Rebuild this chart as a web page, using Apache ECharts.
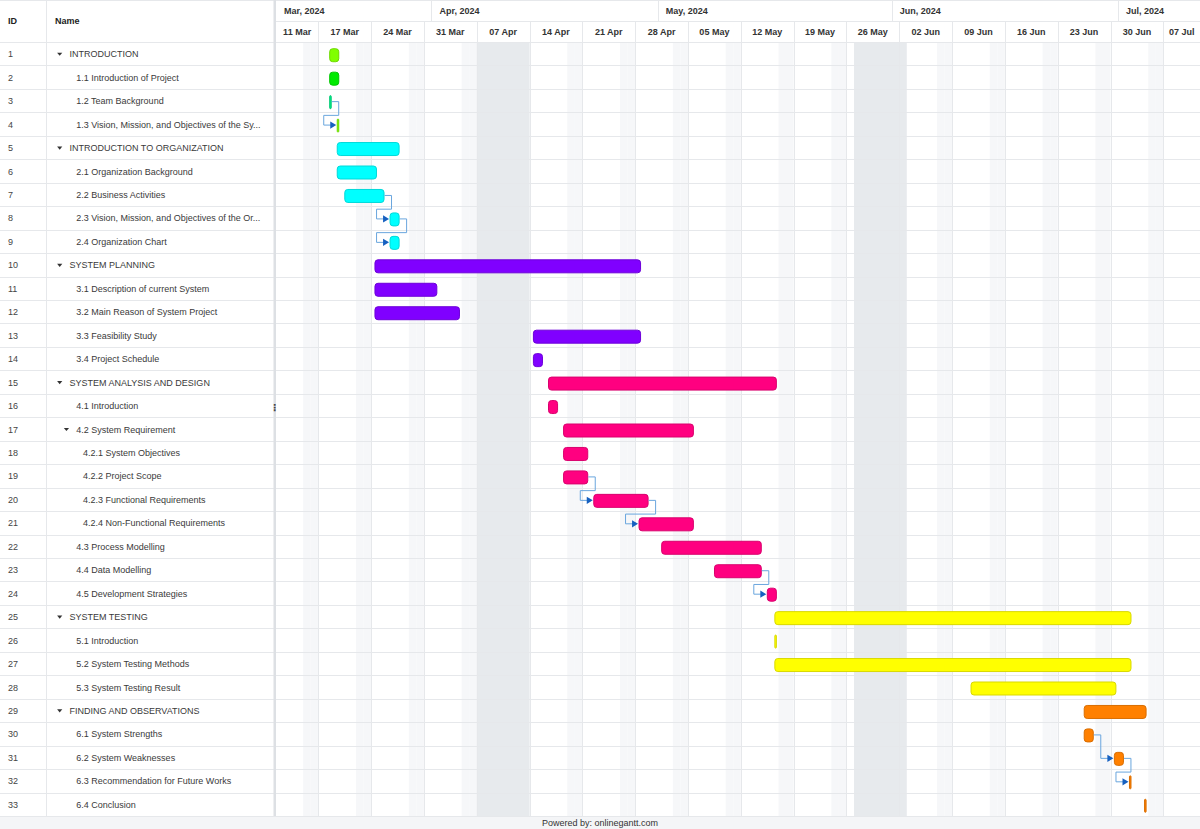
<!DOCTYPE html>
<html>
<head>
<meta charset="utf-8">
<script src="https://cdn.jsdelivr.net/npm/echarts@6/dist/echarts.min.js"></script>
<style>
html,body{margin:0;padding:0;background:#fff;}
#chart{width:1200px;height:829px;}
</style>
</head>
<body>
<div id="chart"></div>
<script>
// ---------------- DATA ----------------
const taskIds = [1,2,3,4,5,6,7,8,9,10,11,12,13,14,15,16,17,18,19,20,21,22,23,24,25,26,27,28,29,30,31,32,33];
const taskNames = [
  'INTRODUCTION',
  '1.1 Introduction of Project',
  '1.2 Team Background',
  '1.3 Vision, Mission, and Objectives of the System',
  'INTRODUCTION TO ORGANIZATION',
  '2.1 Organization Background',
  '2.2 Business Activities',
  '2.3 Vision, Mission, and Objectives of the Organization',
  '2.4 Organization Chart',
  'SYSTEM PLANNING',
  '3.1 Description of current System',
  '3.2 Main Reason of System Project',
  '3.3 Feasibility Study',
  '3.4 Project Schedule',
  'SYSTEM ANALYSIS AND DESIGN',
  '4.1 Introduction',
  '4.2 System Requirement',
  '4.2.1 System Objectives',
  '4.2.2 Project Scope',
  '4.2.3 Functional Requirements',
  '4.2.4 Non-Functional Requirements',
  '4.3 Process Modelling',
  '4.4 Data Modelling',
  '4.5 Development Strategies',
  'SYSTEM TESTING',
  '5.1 Introduction',
  '5.2 System Testing Methods',
  '5.3 System Testing Result',
  'FINDING AND OBSERVATIONS',
  '6.1 System Strengths',
  '6.2 System Weaknesses',
  '6.3 Recommendation for Future Works',
  '6.4 Conclusion'
];
const taskLevels = [0,1,1,1,0,1,1,1,1,0,1,1,1,1,0,1,1,2,2,2,2,1,1,1,0,1,1,1,0,1,1,1,1];
const taskIsSummary = [1,0,0,0,1,0,0,0,0,1,0,0,0,0,1,0,1,0,0,0,0,0,0,0,1,0,0,0,1,0,0,0,0];
const taskStarts = [
  '2024-03-18','2024-03-18','2024-03-18','2024-03-19',
  '2024-03-19','2024-03-19','2024-03-20','2024-03-26','2024-03-26',
  '2024-03-24','2024-03-24','2024-03-24','2024-04-14','2024-04-14',
  '2024-04-16','2024-04-16','2024-04-18','2024-04-18','2024-04-18','2024-04-22','2024-04-28','2024-05-01','2024-05-08','2024-05-15',
  '2024-05-16','2024-05-16','2024-05-16','2024-06-11',
  '2024-06-26','2024-06-26','2024-06-30','2024-07-02','2024-07-04'
];
const taskEnds = [
  '2024-03-19','2024-03-19','2024-03-18','2024-03-19',
  '2024-03-27','2024-03-24','2024-03-25','2024-03-27','2024-03-27',
  '2024-04-28','2024-04-01','2024-04-04','2024-04-28','2024-04-15',
  '2024-05-16','2024-04-17','2024-05-05','2024-04-21','2024-04-21','2024-04-29','2024-05-05','2024-05-14','2024-05-14','2024-05-16',
  '2024-07-02','2024-05-16','2024-07-02','2024-06-30',
  '2024-07-04','2024-06-27','2024-07-01','2024-07-02','2024-07-04'
];
const taskColors = [
  '#80ff00','#00ea00','#00ee88','#80ff00',
  '#00ffff','#00ffff','#00ffff','#00ffff','#00ffff',
  '#8000ff','#8000ff','#8000ff','#8000ff','#8000ff',
  '#ff0080','#ff0080','#ff0080','#ff0080','#ff0080','#ff0080','#ff0080','#ff0080','#ff0080','#ff0080',
  '#ffff00','#ffff00','#ffff00','#ffff00',
  '#ff8000','#ff8000','#ff8000','#ff8000','#ff8000'
];
const dependencies = [[3,4],[7,8],[8,9],[19,20],[20,21],[23,24],[30,31],[31,32]];
const workdayStart = '10:45';
const workdayEnd = '18:45';

const timelineStart = '2024-03-11 00:00';
const timelineEnd = '2024-07-11 20:40';
const weekStarts = ['2024-03-11','2024-03-17','2024-03-24','2024-03-31','2024-04-07','2024-04-14','2024-04-21','2024-04-28',
  '2024-05-05','2024-05-12','2024-05-19','2024-05-26','2024-06-02','2024-06-09','2024-06-16','2024-06-23','2024-06-30','2024-07-07'];
const weekLabels = ['11 Mar','17 Mar','24 Mar','31 Mar','07 Apr','14 Apr','21 Apr','28 Apr',
  '05 May','12 May','19 May','26 May','02 Jun','09 Jun','16 Jun','23 Jun','30 Jun','07 Jul'];
const monthStarts = ['2024-03-11','2024-04-01','2024-05-01','2024-06-01','2024-07-01'];
const monthLabels = ['Mar, 2024','Apr, 2024','May, 2024','Jun, 2024','Jul, 2024'];
const nonWorkingRanges = [['2024-04-07','2024-04-13'],['2024-05-27','2024-06-02']];
const weekendWeekdays = [5,6]; // Friday, Saturday

// ---------------- HELPERS ----------------
function ts(s){
  const parts = s.split(' ');
  const d = parts[0].split('-').map(Number);
  const t = (parts[1] || '00:00').split(':').map(Number);
  return new Date(d[0], d[1]-1, d[2], t[0], t[1]).getTime();
}
function addDays(t, n){ const d = new Date(t); d.setDate(d.getDate()+n); return d.getTime(); }
function darken(hex, f){
  const n = parseInt(hex.slice(1), 16);
  const r = Math.round(((n >> 16) & 255) * f), g = Math.round(((n >> 8) & 255) * f), b = Math.round((n & 255) * f);
  return 'rgb(' + r + ',' + g + ',' + b + ')';
}
const tMin = ts(timelineStart), tMax = ts(timelineEnd);
const FONT = '"Liberation Sans", Arial, Helvetica, sans-serif';
const GRID = '#e6e8eb';

const shadeData = [];
for (let t = tMin; t < tMax; t = addDays(t,1)) {
  if (weekendWeekdays.indexOf(new Date(t).getDay()) >= 0) shadeData.push([t, addDays(t,1), 0, 0]);
}
nonWorkingRanges.forEach(r => shadeData.push([ts(r[0]), addDays(ts(r[1]),1), 0, 1]));

const weekCells = weekStarts.map((w,i) => [ts(w), i+1 < weekStarts.length ? ts(weekStarts[i+1]) : tMax, 0, i]);
const monthCells = monthStarts.map((m,i) => [ts(m), i+1 < monthStarts.length ? ts(monthStarts[i+1]) : tMax, 0, i]);
const barData = taskIds.map((id,i) => [ts(taskStarts[i]+' '+workdayStart), ts(taskEnds[i]+' '+workdayEnd), i]);
const depData = dependencies.map(d => {
  const p = d[0]-1, s = d[1]-1;
  return [ts(taskEnds[p]+' '+workdayEnd), p, ts(taskStarts[s]+' '+workdayStart), s];
});
const rowData = taskIds.map((id,i) => [0, i]);
const rowDataTime = taskIds.map((id,i) => [tMin, i]);

// ---------------- CHART ----------------
const chart = echarts.init(document.getElementById('chart'), null, {renderer:'svg', width:1200, height:829});

const option = {
  animation: false,
  grid: [
    {left: 273, right: 0, top: 42, height: 774},
    {left: 273, right: 0, top: 0, height: 42},
    {left: 0, width: 273, top: 42, height: 774}
  ],
  xAxis: [
    {gridIndex:0, type:'time', min:tMin, max:tMax, show:false},
    {gridIndex:1, type:'time', min:tMin, max:tMax, show:false},
    {gridIndex:2, type:'value', min:0, max:273, show:false}
  ],
  yAxis: [
    {gridIndex:0, type:'category', data: taskIds.map(String), inverse:true, show:false},
    {gridIndex:1, type:'value', min:0, max:42, inverse:true, show:false},
    {gridIndex:2, type:'category', data: taskIds.map(String), inverse:true, show:false}
  ],
  graphic: [
    {type:'rect', shape:{x:0,y:816,width:1200,height:13}, style:{fill:'#f4f5f7'}, z:0},
    {type:'text', x:600, y:822.5, style:{text:'Powered by: onlinegantt.com', font:'9px '+FONT, fill:'#333', align:'center', verticalAlign:'middle'}, z:10},
    {type:'line', shape:{x1:0,y1:0.5,x2:1200,y2:0.5}, style:{stroke:GRID, lineWidth:1}, z:10},
    {type:'line', shape:{x1:276,y1:21.5,x2:1200,y2:21.5}, style:{stroke:GRID, lineWidth:1}, z:10},
    {type:'line', shape:{x1:0,y1:42.5,x2:1200,y2:42.5}, style:{stroke:GRID, lineWidth:1}, z:10},
    {type:'line', shape:{x1:46.5,y1:0,x2:46.5,y2:816}, style:{stroke:GRID, lineWidth:1}, z:10},
    {type:'rect', shape:{x:273.5,y:0,width:2.5,height:816}, style:{fill:'#dde0e4'}, z:20},
    {type:'text', x:8, y:21, style:{text:'ID', font:'bold 9px '+FONT, fill:'#222', align:'left', verticalAlign:'middle'}, z:10},
    {type:'text', x:55, y:21, style:{text:'Name', font:'bold 9px '+FONT, fill:'#222', align:'left', verticalAlign:'middle'}, z:10},
    {type:'text', x:274.8, y:407, style:{text:'⋮', font:'bold 10px "DejaVu Sans", sans-serif', fill:'#444', align:'center', verticalAlign:'middle'}, z:30}
  ],
  series: [
    {
      type:'custom', xAxisIndex:0, yAxisIndex:0, clip:true, z:1, silent:true,
      encode:{x:[0,1], y:2},
      data: shadeData,
      renderItem: function(params, api){
        const cs = params.coordSys;
        const x0 = api.coord([api.value(0), 0])[0];
        const x1 = api.coord([api.value(1), 0])[0];
        return {type:'rect', shape:{x:x0, y:cs.y, width:x1-x0, height:cs.height},
          style:{fill: api.value(3) === 1 ? '#e7eaed' : '#f6f7f9'}};
      }
    },
    {
      type:'custom', xAxisIndex:0, yAxisIndex:0, clip:true, z:2, silent:true,
      encode:{x:0, y:2},
      data: weekCells.slice(1),
      renderItem: function(params, api){
        const cs = params.coordSys;
        const x = Math.round(api.coord([api.value(0), 0])[0]) + 0.5;
        return {type:'line', shape:{x1:x, y1:cs.y, x2:x, y2:cs.y+cs.height}, style:{stroke:GRID, lineWidth:1}};
      }
    },
    {
      type:'custom', xAxisIndex:0, yAxisIndex:0, clip:false, z:2, silent:true,
      encode:{x:0, y:1},
      data: rowDataTime,
      renderItem: function(params, api){
        const cs = params.coordSys;
        const c = api.coord([api.value(0), api.value(1)]);
        const h = api.size([0,1])[1];
        const y = Math.round(c[1] + h/2) + 0.5;
        return {type:'line', shape:{x1:cs.x, y1:y, x2:cs.x+cs.width, y2:y}, style:{stroke:GRID, lineWidth:1}};
      }
    },
    {
      type:'custom', xAxisIndex:1, yAxisIndex:1, clip:true, z:3, silent:true,
      encode:{x:[0,1], y:2},
      data: monthCells,
      renderItem: function(params, api){
        const cs = params.coordSys;
        const x0 = Math.max(api.coord([api.value(0), 0])[0], cs.x + 3);
        const idx = api.value(3);
        const children = [];
        if (idx > 0) {
          const xl = Math.round(x0) + 0.5;
          children.push({type:'line', shape:{x1:xl, y1:cs.y, x2:xl, y2:cs.y+21}, style:{stroke:GRID, lineWidth:1}});
        }
        children.push({type:'text', x:x0+8, y:cs.y+11, style:{text:monthLabels[idx], font:'bold 9px '+FONT, fill:'#333', align:'left', verticalAlign:'middle'}});
        return {type:'group', children};
      }
    },
    {
      type:'custom', xAxisIndex:1, yAxisIndex:1, clip:true, z:3, silent:true,
      encode:{x:[0,1], y:2},
      data: weekCells,
      renderItem: function(params, api){
        const cs = params.coordSys;
        const x0 = Math.max(api.coord([api.value(0), 0])[0], cs.x + 3);
        const x1 = api.coord([api.value(1), 0])[0];
        const idx = api.value(3);
        const children = [];
        if (idx > 0) {
          const xl = Math.round(x0) + 0.5;
          children.push({type:'line', shape:{x1:xl, y1:cs.y+21, x2:xl, y2:cs.y+42}, style:{stroke:GRID, lineWidth:1}});
        }
        children.push({type:'text', x:(x0+x1)/2, y:cs.y+32, style:{text:weekLabels[idx], font:'bold 9px '+FONT, fill:'#333', align:'center', verticalAlign:'middle'}});
        return {type:'group', children};
      }
    },
    {
      type:'custom', xAxisIndex:2, yAxisIndex:2, clip:false, z:3, silent:true,
      encode:{x:0, y:1},
      data: rowData,
      renderItem: function(params, api){
        const cs = params.coordSys;
        const i = api.value(1);
        const c = api.coord([0, i]);
        const h = api.size([0,1])[1];
        const yc = c[1] + 0.5;
        const yb = Math.round(c[1] + h/2) + 0.5;
        const lvl = taskLevels[i];
        const tx = 69.5 + lvl * 6.75;
        const children = [
          {type:'line', shape:{x1:cs.x, y1:yb, x2:cs.x+cs.width, y2:yb}, style:{stroke:GRID, lineWidth:1}},
          {type:'text', x:cs.x+8, y:yc, style:{text:String(taskIds[i]), font:'9px '+FONT, fill:'#444', align:'left', verticalAlign:'middle'}},
          {type:'text', x:cs.x+tx, y:yc, style:{text:taskNames[i], font:'9px '+FONT, fill:'#3a3a3a', align:'left', verticalAlign:'middle',
            width: 264 - tx, overflow:'truncate', ellipsis:'...'}}
        ];
        if (taskIsSummary[i]) {
          const cx = cs.x + tx - 9.8;
          children.push({type:'polygon', shape:{points:[[cx-2.6, yc-1.6],[cx+2.6, yc-1.6],[cx, yc+1.6]]}, style:{fill:'#333'}});
        }
        return {type:'group', children};
      }
    },
    {
      type:'custom', xAxisIndex:0, yAxisIndex:0, clip:true, z:5,
      encode:{x:[0,1], y:2},
      data: barData,
      renderItem: function(params, api){
        const i = api.value(2);
        const s = api.coord([api.value(0), i]);
        const e = api.coord([api.value(1), i]);
        const w = Math.max(e[0]-s[0], 2);
        const color = taskColors[i];
        return {type:'rect', shape:{x:s[0]+0.5, y:s[1]-5, width:w-1, height:13, r:3},
          style:{fill:color, stroke:darken(color, 0.85), lineWidth:1}};
      }
    },
    {
      type:'custom', xAxisIndex:0, yAxisIndex:0, clip:true, z:6, silent:true,
      encode:{x:[0,2], y:[1,3]},
      data: depData,
      renderItem: function(params, api){
        const p = api.coord([api.value(0), api.value(1)]);
        const q = api.coord([api.value(2), api.value(3)]);
        const h = api.size([0,1])[1];
        const yP = p[1] + 1, yQ = q[1] + 1;
        const x1 = p[0] + 7;
        const tip = q[0] - 0.5;
        let pts;
        if (q[0] - x1 >= 10) {
          pts = [[p[0], yP],[x1, yP],[x1, yQ],[tip-5, yQ]];
        } else {
          const ym = p[1] + h/2 + 3;
          const xl = q[0] - 13;
          pts = [[p[0], yP],[x1, yP],[x1, ym],[xl, ym],[xl, yQ],[tip-5, yQ]];
        }
        return {type:'group', children:[
          {type:'polyline', shape:{points:pts}, style:{stroke:'#6aa6de', lineWidth:1, fill:null}},
          {type:'polygon', shape:{points:[[tip, yQ],[tip-6, yQ-3.6],[tip-6, yQ+3.6]]}, style:{fill:'#1660c0'}}
        ]};
      }
    }
  ]
};
chart.setOption(option);
</script>
</body>
</html>
